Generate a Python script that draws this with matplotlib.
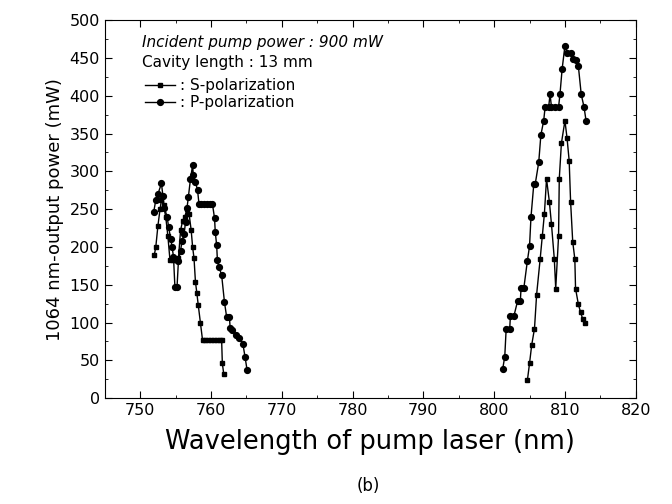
import numpy as np
import matplotlib.pyplot as plt
from matplotlib.ticker import MultipleLocator
from matplotlib.lines import Line2D

# S-polarization (squares)
s_wl = [752.0, 752.2, 752.5, 752.8, 753.0, 753.3, 753.6, 753.9, 754.2, 754.6,
        755.0, 755.4, 755.7, 756.0, 756.3, 756.6, 756.9, 757.2, 757.4, 757.6,
        757.8, 758.0, 758.2, 758.5, 758.8, 759.2, 759.6, 760.0, 760.4, 760.8,
        761.2, 761.5, 761.6, 761.8,
        804.7, 805.0, 805.3, 805.7, 806.0, 806.5, 806.8, 807.1, 807.4, 807.8,
        808.1, 808.5, 808.7, 809.1, 809.2, 809.5, 810.0, 810.3, 810.6, 810.8,
        811.1, 811.4, 811.5, 811.9, 812.2, 812.5, 812.8]
s_pw = [190, 200, 228, 250, 262, 255, 240, 215, 183, 183,
        183, 185, 222, 235, 240, 250, 244, 222, 200, 185,
        154, 139, 123, 100, 77, 77, 77, 77, 77, 77,
        77, 77, 46, 32,
        24, 46, 70, 92, 137, 184, 214, 244, 290, 260,
        230, 184, 145, 214, 290, 337, 367, 344, 314, 260,
        207, 184, 145, 124, 114, 105, 99]

# P-polarization (circles)
p_wl = [751.9, 752.2, 752.5, 753.0, 753.2, 753.4, 753.8, 754.0, 754.3, 754.5,
        754.7, 754.9, 755.2, 755.4, 755.7, 755.9, 756.2, 756.4, 756.6, 756.8,
        757.1, 757.4, 757.5, 757.8, 758.1, 758.3, 758.6, 759.0, 759.4, 759.8,
        760.2, 760.5, 760.6, 760.8, 760.9, 761.1, 761.5, 761.9, 762.2, 762.6,
        762.7, 763.0, 763.6, 764.0, 764.5, 764.8, 765.1,
        801.2, 801.5, 801.7, 802.2, 802.3, 802.8, 803.3, 803.7, 803.8, 804.2,
        804.7, 805.0, 805.2, 805.6, 805.8, 806.3, 806.6, 807.0, 807.2, 807.7,
        807.9, 808.1, 808.6, 809.1, 809.3, 809.6, 810.0, 810.3, 810.8, 811.2,
        811.5, 811.9, 812.3, 812.7, 813.0]
p_pw = [246, 262, 270, 284, 268, 252, 240, 227, 211, 200,
        187, 147, 147, 182, 195, 208, 217, 233, 251, 266,
        290, 308, 295, 286, 275, 257, 257, 257, 257, 257,
        257, 238, 220, 202, 183, 174, 163, 127, 108, 108,
        93, 90, 83, 79, 72, 55, 37,
        38, 55, 92, 92, 109, 109, 128, 128, 146, 146,
        182, 201, 239, 283, 283, 312, 348, 367, 385, 385,
        402, 385, 385, 385, 402, 435, 466, 457, 457, 448,
        447, 439, 402, 385, 366]

fig = plt.figure(figsize=(6.72, 5.04), dpi=100)
ax = fig.add_axes([0.156, 0.21, 0.79, 0.75])

ax.plot(s_wl[:34], s_pw[:34], '-s', color='black', lw=1, ms=3.5)
ax.plot(s_wl[34:], s_pw[34:], '-s', color='black', lw=1, ms=3.5)
ax.plot(p_wl[:47], p_pw[:47], '-o', color='black', lw=1, ms=4.2)
ax.plot(p_wl[47:], p_pw[47:], '-o', color='black', lw=1, ms=4.2)

ax.set_xlim(745, 820)
ax.set_ylim(0, 500)
ax.xaxis.set_major_locator(MultipleLocator(10))
ax.xaxis.set_minor_locator(MultipleLocator(5))
ax.yaxis.set_major_locator(MultipleLocator(50))
ax.yaxis.set_minor_locator(MultipleLocator(25))
ax.tick_params(which='both', direction='in', top=True, right=True, labelsize=11.5)
ax.tick_params(which='major', length=5)
ax.tick_params(which='minor', length=2.5)

ax.set_ylabel('1064 nm-output power (mW)', fontsize=13)
ax.set_xlabel('Wavelength of pump laser (nm)', fontsize=18.5, labelpad=8)
fig.text(0.548, 0.025, '(b)', ha='center', fontsize=12)

ax.text(0.07, 0.93, 'Incident pump power : 900 mW', transform=ax.transAxes,
        fontsize=11, style='italic')
ax.text(0.07, 0.875, 'Cavity length : 13 mm', transform=ax.transAxes, fontsize=11)

handles = [Line2D([], [], color='black', marker='s', ms=3.5, lw=1),
           Line2D([], [], color='black', marker='o', ms=4.2, lw=1)]
ax.legend(handles, [': S-polarization', ': P-polarization'], loc='upper left',
          bbox_to_anchor=(0.055, 0.875), frameon=False, fontsize=11,
          handlelength=2, handletextpad=0.3, labelspacing=0.15, borderpad=0.2)

fig.savefig('out.png', dpi=100)
